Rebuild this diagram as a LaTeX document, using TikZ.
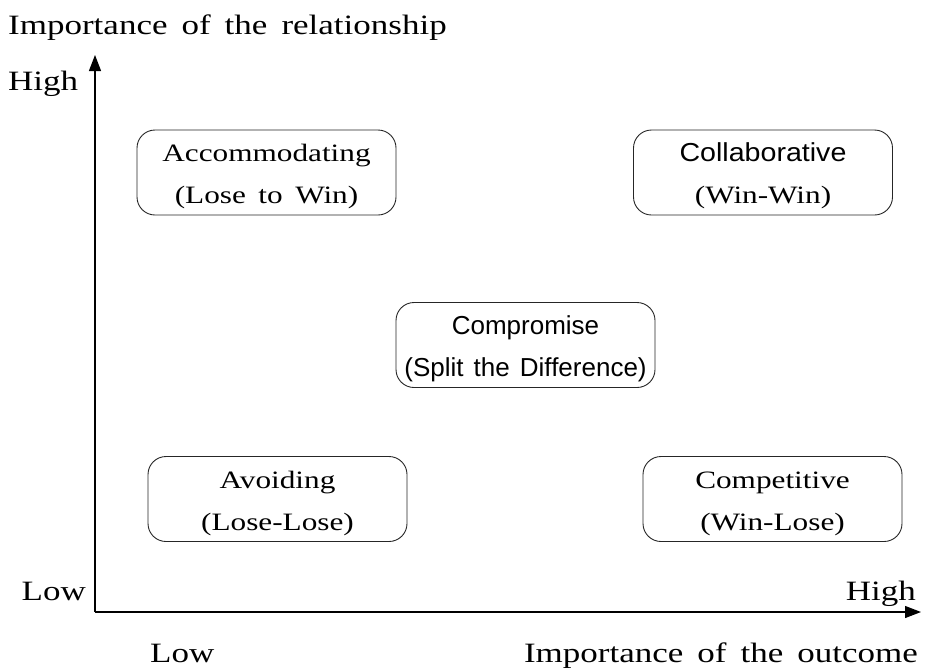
\documentclass[tikz,border=0pt]{standalone}
\usepackage{fontspec}
\setmainfont{Liberation Serif}[FakeStretch=1.25,WordSpace=1.6]
\newfontfamily\gul{Liberation Sans}[FakeStretch=1.0,WordSpace=1.4]
\newfontfamily\gulw{Liberation Sans}[FakeStretch=1.1]
\usetikzlibrary{arrows.meta}
\newcommand{\topstrut}{\rule{0pt}{26pt}}
\newcommand{\botstrut}{\rule[-6pt]{0pt}{6pt}}
\begin{document}
\begin{tikzpicture}[x=1pt,y=-1pt,
  quad/.style={draw=black!85,line width=0.9pt,rounded corners=18pt,
    minimum width=259pt,minimum height=85pt,align=center,inner sep=0pt,
    font=\fontsize{25}{42}\selectfont},
  axis/.style={line width=1.2pt,-{Triangle[length=16pt,width=12pt]}},
  lab/.style={inner sep=0pt,font=\fontsize{28}{30}\selectfont}]
\useasboundingbox (0,0) rectangle (926,670);
\coordinate (o) at (95,612);
\coordinate (ytip) at (95,55);
\coordinate (xtip) at (921,612);
\draw[axis] (o) -- (ytip);
\draw[axis] (o) -- (xtip);
\node[lab,anchor=base west] (title) at (8,34) {Importance of the relationship};
\node[lab,anchor=base west] (yhigh) at (8,90) {High};
\node[lab,anchor=base east] (ylow) at (86,600) {Low};
\node[lab,anchor=base east] (xhigh) at (916,600) {High};
\node[lab,anchor=base west] (xlow) at (150,662) {Low};
\node[lab,anchor=base east] (xtitle) at (918,662) {Importance of the outcome};
\node[quad] (acc) at (266.5,172.5) {\topstrut Accommodating\\(Lose to Win)\botstrut};
\node[quad] (col) at (763,172.5) {\topstrut{\gulw\fontsize{26}{42}\selectfont Collaborative}\\(Win-Win)\botstrut};
\node[quad,font=\gul\fontsize{26}{42}\selectfont] (cmp) at (525.5,345) {\topstrut Compromise\\(Split the Difference)\botstrut};
\node[quad] (avo) at (277.5,499) {\topstrut Avoiding\\(Lose-Lose)\botstrut};
\node[quad] (cpt) at (772.5,499) {\topstrut Competitive\\(Win-Lose)\botstrut};
\end{tikzpicture}
\end{document}
